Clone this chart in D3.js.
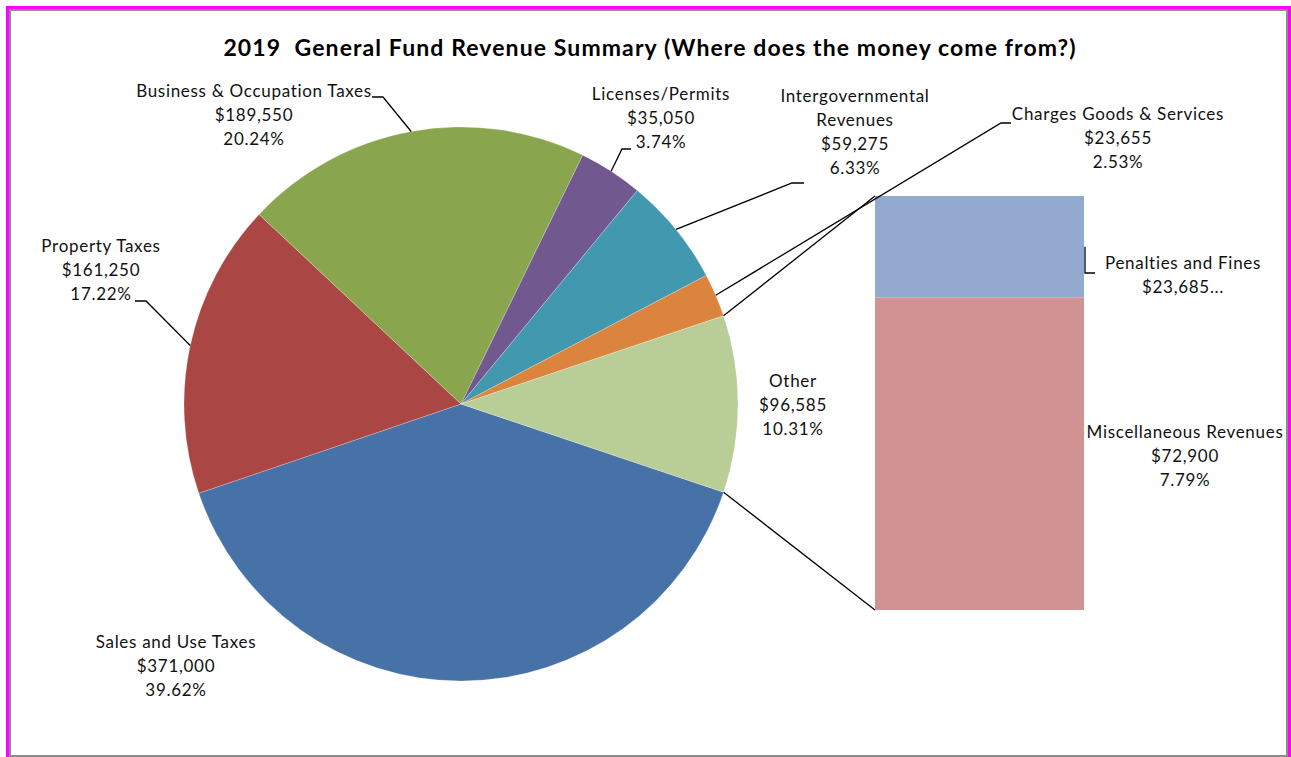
<!DOCTYPE html>
<html>
<head>
<meta charset="utf-8">
<script src="https://cdn.jsdelivr.net/npm/d3@7"></script>
<style>
  html, body { margin: 0; padding: 0; background: #fff; }
  svg { display: block; }
  text { font-family: Lato, "Open Sans", sans-serif; fill: #111; }
</style>
</head>
<body>
<svg id="chart" width="1291" height="757"></svg>
<script>
// ---- Data --------------------------------------------------------------
const titleText = "2019  General Fund Revenue Summary (Where does the money come from?)";

// Main pie: the last entry "Other" is split out into the stacked bar.
const categories = [
  "Sales and Use Taxes",
  "Property Taxes",
  "Business & Occupation Taxes",
  "Licenses/Permits",
  "Intergovernmental Revenues",
  "Charges Goods & Services",
  "Other"
];
const values = [371000, 161250, 189550, 35050, 59275, 23655, 96585];

// Breakdown of "Other"
const otherCategories = ["Penalties and Fines", "Miscellaneous Revenues"];
const otherValues = [23685, 72900];

const sliceColors = ["#4672A8", "#AA4644", "#89A54E", "#71588F", "#4198AF", "#DB843D", "#B9CD96"];
const otherColors = ["#93A9CF", "#D19392"];

// ---- Setup -------------------------------------------------------------
const svg = d3.select("#chart");

const total = d3.sum(values);
const fmtMoney = v => "$" + d3.format(",")(v);
const fmtPct = d3.format(".2%");

// Frame
svg.append("rect").attr("x", 7.5).attr("y", 7.5).attr("width", 1282).attr("height", 770)
  .attr("fill", "#fff").attr("stroke", "#FF00FF").attr("stroke-width", 3);
svg.append("rect").attr("x", 10).attr("y", 10).attr("width", 1277).attr("height", 746)
  .attr("fill", "none").attr("stroke", "#8c8c8c").attr("stroke-width", 2);

// Title
svg.append("text")
  .attr("x", 650).attr("y", 56)
  .attr("text-anchor", "middle")
  .style("white-space", "pre")
  .style("font-size", "23px").style("font-weight", "bold").style("fill", "#000")
  .style("letter-spacing", "1.1px")
  .text(titleText);

// ---- Pie ---------------------------------------------------------------
const cx = 461, cy = 404, R = 277;
// Rotate so the "Other" slice is centred at 3 o'clock, facing the bar.
const otherIdx = values.length - 1;
const otherSweep = values[otherIdx] / total * 2 * Math.PI;
const start = Math.PI / 2 + otherSweep / 2;

const pie = d3.pie().sort(null).value(d => d)
  .startAngle(start).endAngle(start + 2 * Math.PI);
const arcs = pie(values);

const arc = d3.arc().innerRadius(0).outerRadius(R);
const pointAt = a => [cx + R * Math.sin(a), cy - R * Math.cos(a)];

const gPie = svg.append("g").attr("transform", `translate(${cx},${cy})`);
gPie.selectAll("path")
  .data(arcs)
  .join("path")
  .attr("d", arc)
  .attr("fill", (d, i) => sliceColors[i])
  .attr("stroke", "#fff").attr("stroke-width", 0.4).attr("stroke-opacity", 0.6);

// ---- Stacked bar for "Other" --------------------------------------------
const barX = 875, barW = 209;
const y = d3.scaleLinear().domain([0, d3.sum(otherValues)]).range([610, 196]);
const stackData = otherValues.map((v, i) => ({
  v, i,
  y0: d3.sum(otherValues.slice(i + 1)),
  y1: d3.sum(otherValues.slice(i))
}));
svg.append("g").selectAll("rect")
  .data(stackData)
  .join("rect")
  .attr("x", barX).attr("width", barW)
  .attr("y", d => y(d.y1))
  .attr("height", d => y(d.y0) - y(d.y1))
  .attr("fill", d => otherColors[d.i]);

// Series lines joining the "Other" slice to the bar
const oa = arcs[otherIdx];
const lineG = svg.append("g").attr("fill", "none").attr("stroke", "#000").attr("stroke-width", 1.3);
lineG.append("line")
  .attr("x1", pointAt(oa.startAngle)[0]).attr("y1", pointAt(oa.startAngle)[1])
  .attr("x2", barX).attr("y2", y.range()[1]);
lineG.append("line")
  .attr("x1", pointAt(oa.endAngle)[0]).attr("y1", pointAt(oa.endAngle)[1])
  .attr("x2", barX).attr("y2", y.range()[0]);

// ---- Labels ---------------------------------------------------------------
// Label placement: centre x, first baseline, optional name wrap, leader elbow.
const lineH = 24;
const pieLabelLayout = [
  { x: 176, y: 648 },
  { x: 101, y: 252, leader: [[146, 301], [135, 301]] },
  { x: 254, y: 97, leader: [[383, 97], [372, 97]] },
  { x: 661, y: 100, leader: [[622, 149], [631, 149]] },
  { x: 855, y: 102, wrap: 1, leader: [[792, 183], [804, 183]] },
  { x: 1118, y: 120, leader: [[1001, 123], [1011, 123]] },
  { x: 793, y: 387 }
];
const otherLabelLayout = [
  { x: 1183, y: 269, lines: 2, leader: [[1085, 273], [1095, 273]] },
  { x: 1185, y: 438 }
];

function nameLines(name, wrap) {
  if (!wrap) return [name];
  const w = name.split(" ");
  return [w.slice(0, wrap).join(" "), w.slice(wrap).join(" ")];
}

function drawLabel(lay, name, value) {
  let lines = [...nameLines(name, lay.wrap), fmtMoney(value), fmtPct(value / total)];
  if (lay.lines) {
    lines = lines.slice(0, lay.lines);
    lines[lines.length - 1] += "...";
  }
  const t = svg.append("text")
    .attr("text-anchor", "middle")
    .style("font-size", "17px")
    .style("letter-spacing", "0.7px");
  lines.forEach((s, k) => {
    t.append("tspan").attr("x", lay.x).attr("y", lay.y + k * lineH).text(s);
  });
}

const leaderG = svg.append("g").attr("fill", "none").attr("stroke", "#000").attr("stroke-width", 1.3);
const leaderPath = d3.line();

arcs.forEach((a, i) => {
  const lay = pieLabelLayout[i];
  drawLabel(lay, categories[i], values[i]);
  if (lay.leader) {
    const mid = (a.startAngle + a.endAngle) / 2;
    leaderG.append("path").attr("d", leaderPath([pointAt(mid), ...lay.leader]));
  }
});

stackData.forEach((d, i) => {
  const lay = otherLabelLayout[i];
  drawLabel(lay, otherCategories[i], d.v);
  if (lay.leader) {
    const midY = y((d.y0 + d.y1) / 2);
    leaderG.append("path").attr("d", leaderPath([[barX + barW + 1, midY], ...lay.leader]));
  }
});
</script>
</body>
</html>
